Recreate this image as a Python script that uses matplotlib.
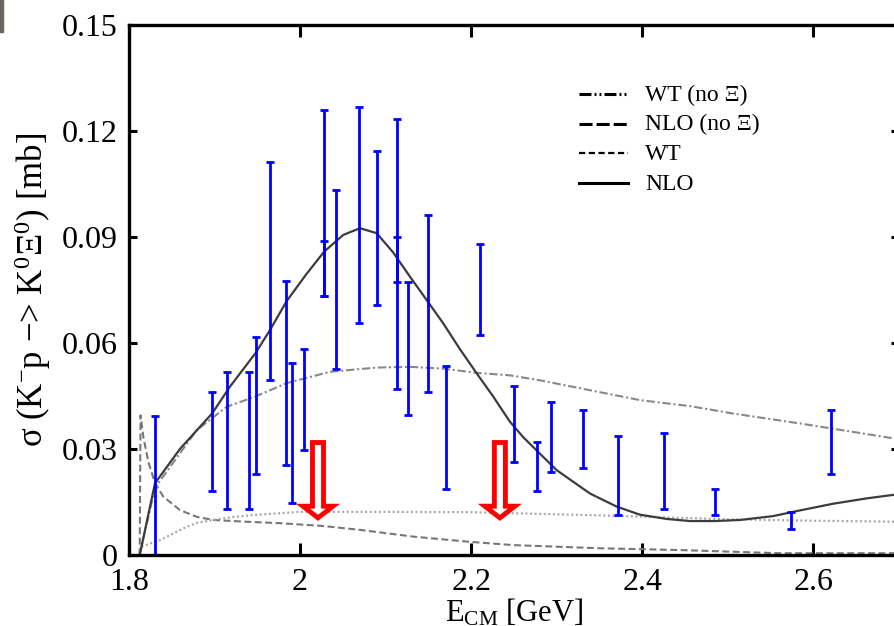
import matplotlib
matplotlib.use("Agg")
import matplotlib.pyplot as plt
from matplotlib.patches import FancyArrow, Rectangle
from matplotlib.lines import Line2D

plt.rcParams['font.family'] = ['Liberation Serif', 'DejaVu Serif']
plt.rcParams['mathtext.fontset'] = 'custom'
plt.rcParams['mathtext.rm'] = 'Liberation Serif'
plt.rcParams['mathtext.it'] = 'Liberation Serif:italic'
plt.rcParams['lines.scale_dashes'] = False

# data points (error bars only: lower / upper ends)
bar_x = [1.830, 1.897, 1.914, 1.940, 1.948, 1.965, 1.984, 1.991, 2.005, 2.028, 2.028,
         2.042, 2.069, 2.090, 2.113, 2.113, 2.126, 2.149, 2.170, 2.210, 2.250, 2.277,
         2.293, 2.331, 2.371, 2.425, 2.485, 2.574, 2.620]
bar_lo = [0.0, 0.0180, 0.0129, 0.0129, 0.0229, 0.0494, 0.0254, 0.0147, 0.0297, 0.0731, 0.0731,
          0.0525, 0.0657, 0.0708, 0.0469, 0.0772, 0.0395, 0.0460, 0.0188, 0.0623, 0.0262, 0.0181,
          0.0236, 0.0245, 0.0112, 0.0129, 0.0112, 0.0073, 0.0228]
bar_hi = [0.0393, 0.0460, 0.0518, 0.0518, 0.0615, 0.1110, 0.0774, 0.0542, 0.0583, 0.1259, 0.0888,
          0.1032, 0.1268, 0.1143, 0.1234, 0.0898, 0.0772, 0.0962, 0.0533, 0.0880, 0.0477, 0.0320,
          0.0434, 0.0410, 0.0336, 0.0345, 0.0188, 0.0121, 0.0409]

# model curves
nlo_x = [1.8125, 1.8304, 1.8596, 1.8974, 1.918, 1.9476, 1.9648, 1.9843, 2.0076, 2.0282,
         2.0504, 2.070, 2.0895, 2.1089, 2.1284, 2.1479, 2.1673, 2.1868, 2.2063, 2.2257,
         2.2452, 2.2608, 2.2998, 2.3387, 2.3699, 2.3971, 2.4283, 2.4556, 2.4850, 2.5140,
         2.5529, 2.5841, 2.6230, 2.6620, 2.6931, 2.70]
nlo_y = [0.0, 0.0203, 0.0300, 0.0401, 0.0476, 0.0570, 0.0636, 0.0718, 0.0795, 0.0858,
         0.0905, 0.0924, 0.0910, 0.0855, 0.0787, 0.0721, 0.0655, 0.0582, 0.0514, 0.0448,
         0.0377, 0.0333, 0.0240, 0.0174, 0.0137, 0.0114, 0.0102, 0.0096, 0.0096, 0.0099,
         0.0110, 0.0126, 0.0145, 0.0160, 0.0170, 0.0172]

wt_x = [1.8125, 1.8304, 1.8791, 1.9142, 1.9476, 1.9843, 2.0349, 2.0898, 2.1284, 2.1669,
        2.2067, 2.2452, 2.2803, 2.3387, 2.3971, 2.4556, 2.5062, 2.5841, 2.6931, 2.70]
wt_y = [0.0, 0.0190, 0.0353, 0.0419, 0.0448, 0.0486, 0.0518, 0.0530, 0.0532, 0.0527,
        0.0515, 0.0508, 0.0494, 0.0466, 0.0438, 0.0421, 0.0400, 0.0372, 0.0330, 0.0328]

wt_noxi_x = [1.8125, 1.8135, 1.8363, 1.8675, 1.8800, 1.8982, 1.9200, 1.945, 2.0, 2.1, 2.2,
             2.35, 2.5, 2.6, 2.7]
wt_noxi_y = [0.0, 0.0023, 0.0042, 0.0080, 0.0091, 0.0099, 0.0107, 0.0113, 0.0122, 0.0122,
             0.0121, 0.0112, 0.0101, 0.0097, 0.0094]

nlo_noxi_x = [1.8125, 1.8135, 1.8170, 1.8230, 1.8304, 1.8401, 1.8596, 1.8791, 1.8985,
              1.9376, 1.9765, 2.027, 2.070, 2.1322, 2.1946, 2.2491, 2.3504, 2.4439, 2.5608,
              2.70]
nlo_noxi_y = [0.0, 0.0395, 0.0330, 0.0260, 0.0203, 0.0165, 0.0127, 0.0108, 0.0099,
              0.0094, 0.0090, 0.0082, 0.0071, 0.0052, 0.0038, 0.0028, 0.0019, 0.0014, 0.0005,
              0.0005]

arrow_x = [2.0209, 2.2335]
arrow_top = 0.0318
arrow_tip = 0.0105

x_ticks = [1.8, 2.0, 2.2, 2.4, 2.6]
x_labels = ["1.8", "2", "2.2", "2.4", "2.6"]
y_ticks = [0, 0.03, 0.06, 0.09, 0.12, 0.15]
y_labels = ["0", "0.03", "0.06", "0.09", "0.12", "0.15"]

legend_labels = ["WT (no \u039e)", "NLO (no \u039e)", "WT", "NLO"]

W, H = 894, 626
fig = plt.figure(figsize=(W / 100, H / 100), dpi=100)
ax = fig.add_axes([129 / W, (H - 555) / H, (899 - 129) / W, (555 - 24.5) / H])

ax.plot(nlo_noxi_x, nlo_noxi_y, color='#777777', lw=1.5, dashes=(5, 2.5))
ax.plot(wt_noxi_x, wt_noxi_y, color='#aaaaaa', lw=1.6, dashes=(1.5, 1.8))
ax.plot(wt_x, wt_y, color='#888888', lw=1.5, dashes=(6, 2, 1.5, 2))
ax.plot(nlo_x, nlo_y, color='#3c3c3c', lw=1.6)

mid = [(a + b) / 2 for a, b in zip(bar_lo, bar_hi)]
err = [[m - a for m, a in zip(mid, bar_lo)], [b - m for m, b in zip(mid, bar_hi)]]
ax.errorbar(bar_x, mid, yerr=err, fmt='none', ecolor='#0000ff', elinewidth=2.0,
            capsize=3, capthick=2.0)

for xa in arrow_x:
    ax.add_patch(FancyArrow(xa, arrow_top, 0, arrow_tip - arrow_top, width=0.0129,
                            head_width=0.0351, head_length=0.0033, length_includes_head=True,
                            facecolor='white', edgecolor='#ff0000', lw=3.5, joinstyle='miter',
                            zorder=4))

ax.set_xlim(1.8, 2.7)
ax.set_ylim(0, 0.15)
ax.set_xticks(x_ticks)
ax.set_xticklabels(x_labels)
ax.set_yticks(y_ticks)
ax.set_yticklabels(y_labels)
ax.tick_params(direction='in', top=True, right=True, width=2.2, labelsize=23)
ax.tick_params(axis='x', length=8.6, pad=9)
ax.tick_params(axis='y', length=5.8, pad=8)
for s in ax.spines.values():
    s.set_linewidth(2.4)

ax.set_xlabel("E$_{\\mathrm{CM}}$ [GeV]", fontsize=22)
ax.xaxis.set_label_coords(0.5, -0.08)
ax.set_ylabel("\u03c3 (K$^{-}$p \u2212> K$^{0}$\u039e$^{0}$) [mb]", fontsize=25)
ax.yaxis.set_label_coords(-0.099, 0.5)

# legend drawn by hand (black samples)
leg_styles = [dict(lw=2.2, dashes=(8.6, 2.2, 1.4, 2.2, 1.4, 2.2)),
              dict(lw=2.2, dashes=(9.4, 2.9)),
              dict(lw=1.6, dashes=(4.5, 2.5)),
              dict(lw=2.2)]
leg_rows = [94, 123.5, 153, 182.5]
for lab, st, yr in zip(legend_labels, leg_styles, leg_rows):
    fig.add_artist(Line2D([579 / W, 628 / W], [1 - yr / H] * 2, color='black',
                          transform=fig.transFigure, **st))
    fig.text(645 / W, 1 - (yr + 7) / H, lab, fontsize=17, va='baseline')

fig.patches.append(Rectangle((0, 1 - 32 / H), 3 / W, 32 / H, transform=fig.transFigure,
                             color='#6b635d'))

fig.savefig("out.png", dpi=100)
